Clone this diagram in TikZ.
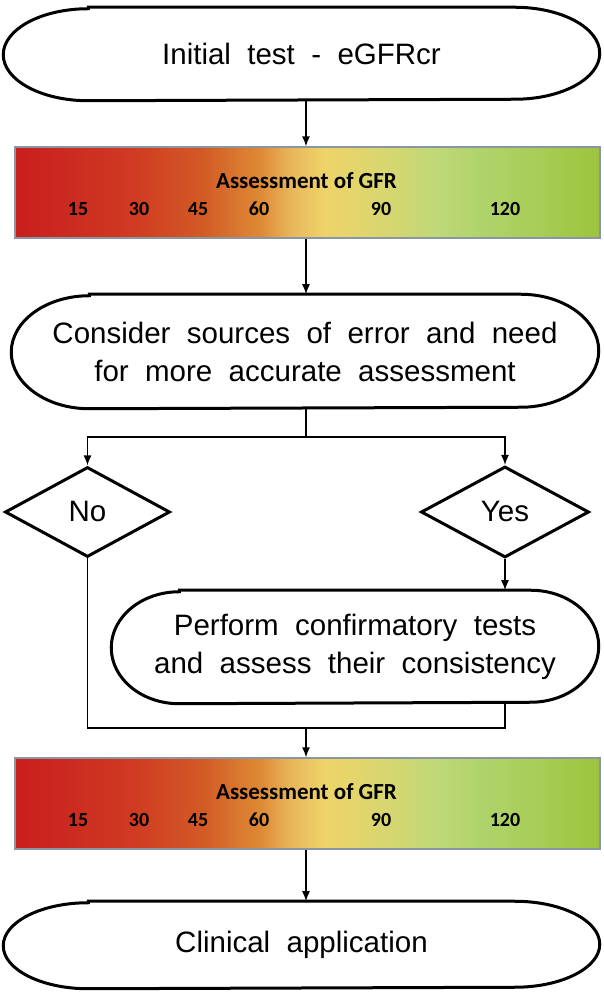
\documentclass[tikz,border=0pt]{standalone}
\usepackage{fontspec}
\setmainfont{Liberation Sans}[WordSpace=2]
\newfontfamily\barfont{Carlito}
\usetikzlibrary{arrows.meta,shapes.geometric}

\definecolor{barframe}{RGB}{138,150,166}
\definecolor{gfrA}{RGB}{200,30,30}
\definecolor{gfrB}{RGB}{208,58,34}
\definecolor{gfrC}{RGB}{210,90,37}
\definecolor{gfrD}{RGB}{222,138,53}
\definecolor{gfrE}{RGB}{232,181,90}
\definecolor{gfrF}{RGB}{238,212,104}
\definecolor{gfrG}{RGB}{214,214,112}
\definecolor{gfrH}{RGB}{192,216,120}
\definecolor{gfrI}{RGB}{176,212,108}
\definecolor{gfrJ}{RGB}{168,204,85}
\definecolor{gfrK}{RGB}{156,196,60}

\pgfdeclarehorizontalshading{gfrscale}{100bp}{color(0bp)=(gfrA); color(25bp)=(gfrA);
  color(35bp)=(gfrB); color(41bp)=(gfrC); color(46bp)=(gfrD); color(48.5bp)=(gfrE);
  color(51.5bp)=(gfrF); color(57bp)=(gfrG); color(61bp)=(gfrH); color(64.5bp)=(gfrI);
  color(70bp)=(gfrJ); color(75bp)=(gfrK); color(100bp)=(gfrK)}

\tikzset{
  term/.style={rectangle, align=center, inner sep=0pt, font=\fontsize{29.5}{38}\selectfont},
  termline/.style={line width=3pt},
  choice/.style={diamond, draw, line width=3pt, inner sep=0pt, font=\fontsize{29.5}{34}\selectfont},
  gfrbar/.style={rectangle, draw=barframe, line width=1.2pt, shade, shading=gfrscale,
    minimum width=585pt, minimum height=91pt},
  gfrtext/.style={inner sep=0pt, font=\barfont\bfseries\fontsize{20}{24}\selectfont},
  gfrtitle/.style={gfrtext, font=\barfont\bfseries\fontsize{23}{26}\selectfont}
}

\begin{document}
\begin{tikzpicture}[x=1pt, y=1pt, >={Latex[length=10pt,width=8pt]}, line width=1.5pt]
    \useasboundingbox (0,0) rectangle (603,995);

    % Rounded boxes
    \node (init) [term, minimum width=595pt, minimum height=92pt] at (301.5, 941) {Initial test - eGFRcr};
    \node (cons) [term, minimum width=586pt, minimum height=113pt] at (305, 643.5)
        {Consider sources of error and need\\for more accurate assessment};
    \node (perf) [term, minimum width=486pt, minimum height=112pt] at (355, 348)
        {Perform confirmatory tests\\and assess their consistency};
    \node (clin) [term, minimum width=595pt, minimum height=86pt] at (301.5, 50) {Clinical application};

    \foreach \t/\rx/\ry in {init/85/46, cons/78/56.5, perf/68/56, clin/85/43}
        \draw[termline] ([xshift=\rx pt]\t.north west) -- ([xshift=-\rx pt]\t.north east)
            arc[start angle=90, end angle=-90, x radius=\rx pt, y radius=\ry pt]
            -- ([xshift=\rx pt]\t.south west)
            arc[start angle=270, end angle=90, x radius=\rx pt, y radius=\ry pt] -- cycle;

    % Decisions
    \node (no) [choice, minimum width=165pt, minimum height=90pt] at (87.5, 483) {No};
    \node (yes) [choice, minimum width=168pt, minimum height=91pt] at (505, 483) {Yes};

    % GFR bars
    \node (bar1) [gfrbar] at (307.5, 802.5) {};
    \node (bar2) [gfrbar] at (307.5, 191.5) {};
    \foreach \b in {bar1, bar2} {
        \begin{scope}[shift={(\b.center)}]
            \node (\b-t) [gfrtitle] at (-1, 12) {Assessment of GFR};
            \foreach \v/\x in {15/78, 30/139, 45/198, 60/259, 90/381, 120/505}
                \node (\b-\v) [gfrtext] at ({\x-307.5}, -16.5) {\v};
        \end{scope}
    }

    % Connectors
    \coordinate (split) at (306, 558);
    \coordinate (join) at (306, 267);
    \draw[->] (init.south -| split) -- (bar1.north -| split);
    \draw[->] (bar1.south -| split) -- (cons.north -| split);
    \draw (cons.south -| split) -- (split);
    \draw[->] (split) -| (no.north);
    \draw[->] (split) -| (yes.north);
    \draw[->] (yes.south) -- (perf.north -| yes.south);
    \draw (no.south) |- (join);
    \draw (perf.south -| yes.south) |- (join);
    \draw[->] (join) -- (bar2.north -| join);
    \draw[->] (bar2.south -| join) -- (clin.north -| join);
\end{tikzpicture}
\end{document}
